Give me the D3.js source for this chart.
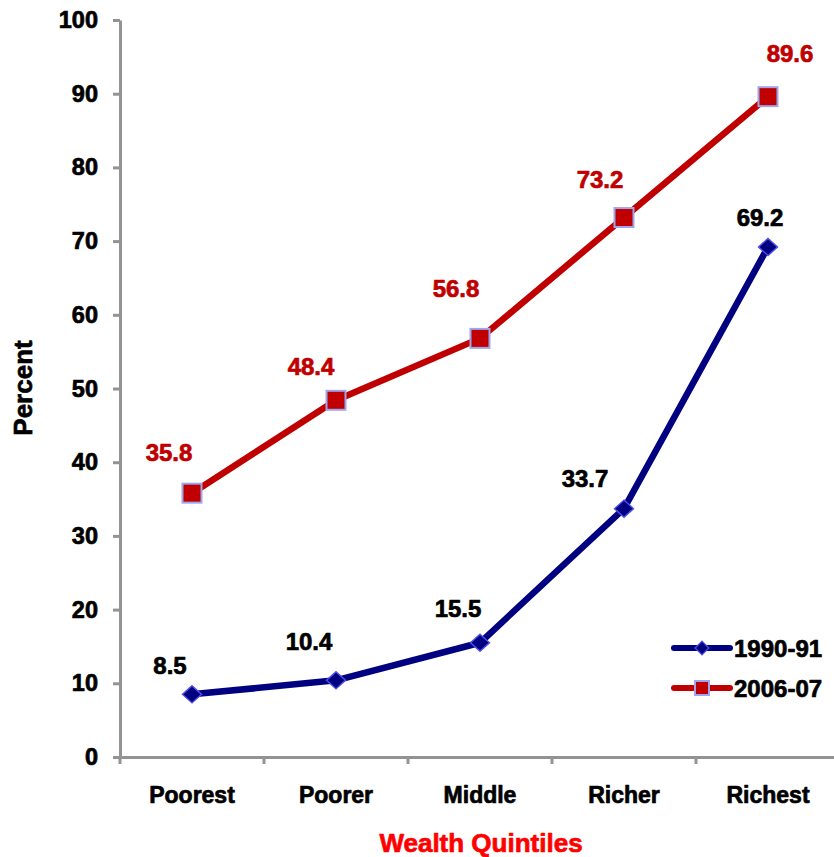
<!DOCTYPE html>
<html>
<head>
<meta charset="utf-8">
<script src="https://cdn.jsdelivr.net/npm/d3@7"></script>
<style>
  body { margin: 0; background: #fff; }
  svg { display: block; font-family: "Liberation Sans", Arial, sans-serif; font-weight: bold; }
  text.heavy { stroke-width: 0.7px; stroke-linejoin: round; }
</style>
</head>
<body>
<svg id="chart" width="834" height="857"></svg>
<script>
// ---- data ----
const categories = ["Poorest", "Poorer", "Middle", "Richer", "Richest"];
const seriesNames = ["1990-91", "2006-07"];
const values1990 = [8.5, 10.4, 15.5, 33.7, 69.2];
const values2006 = [35.8, 48.4, 56.8, 73.2, 89.6];
const yTicks = [0, 10, 20, 30, 40, 50, 60, 70, 80, 90, 100];
const xTitle = "Wealth Quintiles";
const yTitle = "Percent";

// label placement offsets (pixels, relative to point)
const labelDx1990 = [-22, -27, -22, -39, -8];
const labelDy1990 = [-20, -30, -26, -22, -21];
const labelDx2006 = [-23, -25, -24, -24, 22];
const labelDy2006 = [-32, -25, -41, -30, -35];

const svg = d3.select("#chart");
const plotLeft = 120, plotBottom = 757, plotTop = 20, plotRight = 840;

const x = d3.scaleBand().domain(categories).range([plotLeft, plotRight]).padding(0);
const y = d3.scaleLinear().domain([0, 100]).range([plotBottom, plotTop]);
const cx = d => x(d) + x.bandwidth() / 2;

const axisColor = "#939393";
const heavy = (sel, color) => sel.attr("class", "heavy").attr("fill", color).attr("stroke", color);

// Y axis
const yAxis = svg.append("g").attr("transform", `translate(${plotLeft},0)`)
  .call(d3.axisLeft(y).tickValues(yTicks).tickSize(7).tickPadding(15).tickSizeOuter(0));
yAxis.select(".domain").attr("stroke", axisColor).attr("stroke-width", 3);
yAxis.selectAll(".tick line").attr("stroke", axisColor).attr("stroke-width", 3);
yAxis.selectAll(".tick text").attr("font-size", 23.5).attr("font-weight", "bold")
  .attr("font-family", "Liberation Sans, Arial, sans-serif").call(heavy, "#000");

// X axis
const xAxis = svg.append("g").attr("transform", `translate(0,${plotBottom})`)
  .call(d3.axisBottom(x).tickSize(0).tickPadding(30).tickSizeOuter(0));
xAxis.select(".domain").attr("stroke", axisColor).attr("stroke-width", 3);
xAxis.selectAll(".tick text").attr("font-size", 23).attr("font-weight", "bold")
  .attr("font-family", "Liberation Sans, Arial, sans-serif").call(heavy, "#000");
// boundary tick marks
const bounds = categories.map(c => x(c)).concat([x.range()[1]]);
xAxis.selectAll(".btick").data(bounds).enter().append("line")
  .attr("x1", d => d).attr("x2", d => d).attr("y1", 0).attr("y2", 7)
  .attr("stroke", axisColor).attr("stroke-width", 3);

// Axis titles
svg.append("text").attr("x", 481).attr("y", 852).attr("text-anchor", "middle")
  .attr("font-size", 26).call(heavy, "#ff0000").text(xTitle);
svg.append("text").attr("transform", "translate(32,388) rotate(-90)")
  .attr("text-anchor", "middle").attr("font-size", 26).call(heavy, "#000").text(yTitle);

const line = d3.line().x((d, i) => cx(categories[i])).y(d => y(d));

// series 2006-07 (red, squares)
svg.append("path").datum(values2006).attr("d", line)
  .attr("fill", "none").attr("stroke", "#c00000").attr("stroke-width", 6.5)
  .attr("stroke-linejoin", "round");
// series 1990-91 (blue, diamonds)
svg.append("path").datum(values1990).attr("d", line)
  .attr("fill", "none").attr("stroke", "#000080").attr("stroke-width", 6.5)
  .attr("stroke-linejoin", "round");

const sq = 19;
svg.selectAll(".sq").data(values2006).enter().append("rect")
  .attr("x", (d, i) => cx(categories[i]) - sq / 2).attr("y", d => y(d) - sq / 2)
  .attr("width", sq).attr("height", sq)
  .attr("fill", "#c00000").attr("stroke", "#9fa6ec").attr("stroke-width", 2);

const dm = d3.symbol().type(d3.symbolDiamond2).size(230);
svg.selectAll(".dm").data(values1990).enter().append("path")
  .attr("d", dm)
  .attr("transform", (d, i) => `translate(${cx(categories[i])},${y(d)}) scale(1,0.9)`)
  .attr("fill", "#000080").attr("stroke", "#5050e8").attr("stroke-width", 1.5);

// data labels
svg.selectAll(".l06").data(values2006).enter().append("text")
  .attr("x", (d, i) => cx(categories[i]) + labelDx2006[i])
  .attr("y", (d, i) => y(d) + labelDy2006[i])
  .attr("text-anchor", "middle").attr("font-size", 24).call(heavy, "#c00000")
  .text(d => d.toFixed(1));
svg.selectAll(".l90").data(values1990).enter().append("text")
  .attr("x", (d, i) => cx(categories[i]) + labelDx1990[i])
  .attr("y", (d, i) => y(d) + labelDy1990[i])
  .attr("text-anchor", "middle").attr("font-size", 24).call(heavy, "#000")
  .text(d => d.toFixed(1));

// legend
const legend = svg.append("g");
const legItems = [
  { name: seriesNames[0], color: "#000080", type: "diamond", ly: 648 },
  { name: seriesNames[1], color: "#c00000", type: "square", ly: 688 }
];
legItems.forEach(it => {
  legend.append("line").attr("x1", 674).attr("x2", 730).attr("y1", it.ly).attr("y2", it.ly)
    .attr("stroke", it.color).attr("stroke-width", 6).attr("stroke-linecap", "round");
  if (it.type === "square") {
    legend.append("rect").attr("x", 702 - 7).attr("y", it.ly - 7).attr("width", 14).attr("height", 14)
      .attr("fill", it.color).attr("stroke", "#9fa6ec").attr("stroke-width", 2);
  } else {
    legend.append("path").attr("d", d3.symbol().type(d3.symbolDiamond2).size(120))
      .attr("transform", `translate(702,${it.ly})`)
      .attr("fill", it.color).attr("stroke", "#5050e8").attr("stroke-width", 1.2);
  }
  legend.append("text").attr("x", 734).attr("y", it.ly + 9).attr("font-size", 24)
    .call(heavy, "#000").text(it.name);
});
</script>
</body>
</html>
